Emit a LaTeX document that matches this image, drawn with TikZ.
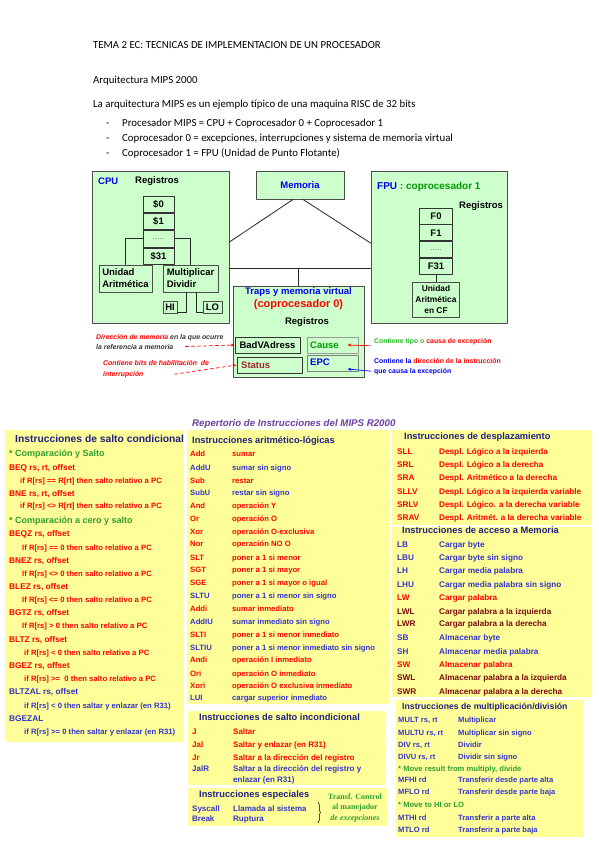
\documentclass[tikz,border=0pt]{standalone}
\usepackage{fontspec}
\setmainfont{Liberation Sans}
\newfontfamily\calibri{Carlito}
\newfontfamily\timesgreen{Liberation Serif}
\usetikzlibrary{positioning,arrows.meta,decorations.pathreplacing}

\definecolor{boxgreen}{HTML}{CCFFCC}
\definecolor{panelyel}{HTML}{FFFF99}
\definecolor{titblue}{HTML}{1F1F80}
\definecolor{insblue}{HTML}{3535C8}
\definecolor{insred}{HTML}{FF0000}
\definecolor{insgreen}{HTML}{2E9E2E}
\definecolor{insdred}{HTML}{7A0A0A}
\definecolor{reppurple}{HTML}{6A3FA0}
\definecolor{diagblue}{HTML}{0000EE}
\definecolor{fpugreen}{HTML}{009A00}
\definecolor{notegreen}{HTML}{22BB22}
\definecolor{statred}{HTML}{A02828}

\tikzset{
  gbox/.style={draw=black!70,fill=boxgreen,line width=0.9pt,inner sep=0pt,font=\fontsize{9.5}{12}\selectfont\bfseries},
  regcell/.style={draw=black!80,fill=boxgreen,line width=0.8pt,minimum width=31pt,minimum height=16.5pt,inner sep=0pt,font=\fontsize{9.5}{11}\selectfont\bfseries},
  wire/.style={draw=black!85,line width=0.8pt},
  dtxt/.style={inner sep=0pt,font=\fontsize{9.5}{11}\selectfont\bfseries},
  note/.style={inner sep=0pt,anchor=base west,font=\fontsize{6.9}{8}\selectfont\bfseries\itshape},
  rnote/.style={inner sep=0pt,anchor=base west,font=\fontsize{6.9}{8}\selectfont\bfseries},
  notearrow/.style={dashed,line width=0.7pt,-{Stealth[length=4pt,width=3pt]}},
  solidarrow/.style={line width=0.7pt,-{Stealth[length=4pt,width=3pt]}},
  panel/.style={fill=panelyel},
  ptitle/.style={inner sep=0pt,anchor=base west,text=titblue,font=\fontsize{9.3}{11}\selectfont\bfseries},
  ins/.style={inner sep=0pt,anchor=base west,font=\fontsize{7.7}{9}\selectfont\bfseries},
  toptxt/.style={inner sep=0pt,anchor=base west,font=\calibri\fontsize{10.8}{13}\selectfont},
}

\begin{document}
\begin{tikzpicture}[x=1pt,y=-1pt,line cap=round,line join=round]
  \useasboundingbox (0,0) rectangle (599,848);

  % heading
  \node[toptxt] (tema) at (93,48.5) {TEMA 2 EC: TECNICAS DE IMPLEMENTACION DE UN PROCESADOR};
  \node[toptxt] (arq) at (93,84) {Arquitectura MIPS 2000};
  \node[toptxt] (intro) at (93,108) {La arquitectura MIPS es un ejemplo típico de una maquina RISC de 32 bits};
  \foreach \yy/\tx [count=\i] in {127/{Procesador MIPS = CPU + Coprocesador 0 + Coprocesador 1},
      141.5/{Coprocesador 0 = excepciones, interrupciones y sistema de memoria virtual},
      156/{Coprocesador 1 = FPU (Unidad de Punto Flotante)}}{
    \node[toptxt] (dash\i) at (106,\yy) {-};
    \node[toptxt] (item\i) at (122,\yy) {\tx};
  }

  % CPU
  \node[gbox,minimum width=137pt,minimum height=152pt] (cpu) at (160.5,247) {};
  \node[dtxt,anchor=west,text=diagblue] (cpulbl) at (98,181) {CPU};
  \node[dtxt,anchor=west] (cpureg) at (135,181) {Registros};
  \node[regcell] (r0) at (158.5,204.25) {\$0};
  \node[regcell,below=0pt of r0] (r1) {\$1};
  \node[regcell,below=0pt of r1,font=\fontsize{8}{9}\selectfont,text=black!60] (rdots) {.....};
  \node[regcell,below=0pt of rdots] (r31) {\$31};
  \node[gbox,minimum width=53pt,minimum height=27pt,align=left] (alu) at (125.5,278.5) {Unidad\\Aritmética};
  \node[gbox,minimum width=55pt,minimum height=27pt,align=left] (mul) at (190.5,278.5) {Multiplicar\\Dividir};
  \node[gbox,minimum width=14pt,minimum height=12pt] (hi) at (170,307) {HI};
  \node[gbox,minimum width=19pt,minimum height=12pt] (lo) at (212.5,307) {LO};
  \draw[wire] (rdots.west) -| (alu.north);
  \draw[wire] (rdots.east) -| (mul.north);
  \draw[wire] ([xshift=-4.5pt]mul.south) |- ([yshift=-5pt]hi.east);
  \draw[wire] ([xshift=5.5pt]mul.south) |- ([yshift=-5pt]lo.west);

  % memoria
  \node[gbox,minimum width=88pt,minimum height=28pt,text=diagblue] (mem) at (300,185) {Memoria};

  % FPU
  \node[gbox,minimum width=136pt,minimum height=152pt] (fpu) at (439,247) {};
  \node[dtxt,anchor=west,font=\fontsize{10}{12}\selectfont\bfseries] (fpulbl) at (377,187) {\textcolor{diagblue}{FPU}\ \textcolor{fpugreen}{:\ coprocesador 1}};
  \node[dtxt,anchor=west] (fpureg) at (459,206) {Registros};
  \node[regcell,minimum width=33pt,minimum height=16pt] (f0) at (436,216) {F0};
  \node[regcell,minimum width=33pt,minimum height=16pt,below=0pt of f0] (f1) {F1};
  \node[regcell,minimum width=33pt,minimum height=16pt,below=0pt of f1,font=\fontsize{8}{9}\selectfont,text=black!60] (fdots) {.....};
  \node[regcell,minimum width=33pt,minimum height=16pt,below=0pt of fdots] (f31) {F31};
  \node[gbox,minimum width=47pt,minimum height=35pt,align=center,font=\fontsize{8.4}{11}\selectfont\bfseries] (falu) at (436,299.5) {Unidad\\Aritmética\\en CF};
  \draw[wire] (f31.south) -- (falu.north);

  % coprocesador 0
  \node[gbox,minimum width=131pt,minimum height=91pt] (traps) at (298.5,331.5) {};
  \node[dtxt,text=diagblue] (trapst) at (298.5,292) {Traps y memoria virtual};
  \node[dtxt,text=red,font=\fontsize{11}{13}\selectfont\bfseries] (cop0) at (298.5,304.5) {(coprocesador 0)};
  \node[dtxt] (trapreg) at (307,322) {Registros};
  \node[gbox,draw=black!80,minimum width=65pt,minimum height=16pt] (badv) at (267.5,345) {BadVAdress};
  \node[gbox,draw=black!40,minimum width=51pt,minimum height=16pt] (cause) at (332.5,345) {};
  \node[dtxt,anchor=west,text=fpugreen] (causet) at (310,345) {Cause};
  \node[gbox,draw=black!80,minimum width=65pt,minimum height=16pt] (status) at (269.5,365) {};
  \node[dtxt,anchor=west,text=statred] (statust) at (241,365) {Status};
  \node[gbox,draw=black!50,minimum width=51pt,minimum height=16pt] (epc) at (332.5,363) {};
  \node[dtxt,anchor=west,text=diagblue] (epct) at (310,362) {EPC};

  % buses
  \draw[wire] ([xshift=-7pt]mem.south) -- ([yshift=5pt]cpu.east);
  \draw[wire] ([xshift=3pt]mem.south) -- ([yshift=4pt]fpu.west);
  \coordinate (busL) at ([yshift=-21pt]cpu.east);
  \draw[wire] (busL) -- (busL -| fpu.west);
  \draw[wire] (traps.north) -- (traps.north |- busL);

  % notas
  \node[note] (n1a) at (96,339) {\textcolor{red}{Dirección de memoria} \textcolor{black!80}{en la que ocurre}};
  \node[note,text=black!80] (n1b) at (96,349) {la referencia a memoria};
  \node[note,text=red] (n2a) at (103,365) {Contiene bits de habilitación\ \ de};
  \node[note,text=red] (n2b) at (103,376) {interrupción};
  \draw[notearrow,red] ([xshift=12pt]n1b.east) -- (badv.west);
  \draw[notearrow,red] ([xshift=31pt]n2b.east) -- (status.west);
  \node[rnote] (n3) at (374,343.5) {\textcolor{notegreen}{Contiene tipo o} \textcolor{red}{causa de excepción}};
  \draw[solidarrow,red] ([xshift=-4pt,yshift=-4pt]n3.west) -- ([xshift=-11pt]cause.east);
  \node[rnote] (n4a) at (374,363.5) {\textcolor{diagblue}{Contiene la} \textcolor{red}{dirección de la instrucción}};
  \node[rnote,text=diagblue] (n4b) at (374,373) {que causa la excepción};
  \draw[solidarrow,diagblue] ([xshift=-3pt]n4b.west) -- ([xshift=-11pt,yshift=-6pt]epc.east);

  % repertorio
  \node[inner sep=0pt,anchor=base west,text=reppurple,font=\fontsize{9.7}{12}\selectfont\bfseries\itshape] (repert) at (192,426) {Repertorio de Instrucciones del MIPS R2000};

  % salto condicional
  \fill[panel] (5,430) rectangle (184,742);
  \node[ptitle,font=\fontsize{10.3}{12}\selectfont\bfseries] (condt) at (15,442) {Instrucciones de salto condicional};
  \foreach \yy/\xx/\fs/\cl/\tx [count=\i] in {
      456/9/9/insgreen/{* Comparación y Salto},
      470/9/8.3/insred/{BEQ rs, rt, offset},
      483/20/7.7/insred/{if R[rs] == R[rt] then salto relativo a PC},
      496/9/8.3/insred/{BNE rs, rt, offset},
      508/20/7.7/insred/{if R[rs] <> R[rt] then salto relativo a PC},
      523/9/9/insgreen/{* Comparación a cero y salto},
      536/9/8.3/insred/{BEQZ rs, offset},
      550/22/7.7/insred/{If R[rs] == 0 then salto relativo a PC},
      563/9/8.3/insred/{BNEZ rs, offset},
      576/22/7.7/insred/{If R[rs] <> 0 then salto relativo a PC},
      589/9/8.3/insred/{BLEZ rs, offset},
      602/22/7.7/insred/{If R[rs] <= 0 then salto relativo a PC},
      615/9/8.3/insred/{BGTZ rs, offset},
      628/22/7.7/insred/{If R[rs] > 0 then salto relativo a PC},
      642/9/8.3/insred/{BLTZ rs, offset},
      655/24/7.7/insred/{if R[rs] < 0 then salto relativo a PC},
      668/9/8.3/insred/{BGEZ rs, offset},
      681/24/7.7/insred/{if R[rs] >=\ \ 0 then salto relativo a PC},
      694/9/8.3/insblue/{BLTZAL rs, offset},
      708/24/7.7/insblue/{if R[rs] < 0 then saltar y enlazar (en R31)},
      721/9/8.3/insblue/{BGEZAL},
      734/24/7.7/insblue/{if R[rs] >= 0 then saltar y enlazar (en R31)}}{
    \node[ins,text=\cl,font=\fontsize{\fs}{10}\selectfont\bfseries] (cond\i) at (\xx,\yy) {\tx};
  }

  % aritmetico-logicas
  \fill[panel] (187,430) rectangle (389,704);
  \node[ptitle] (alut) at (192,443.5) {Instrucciones aritmético-lógicas};
  \foreach \yy/\mn/\ds/\cl [count=\i] in {
      456/Add/sumar/insred,
      470/AddU/sumar sin signo/insblue,
      483/Sub/restar/insred,
      495/SubU/restar sin signo/insblue,
      508/And/operación Y/insred,
      521/Or/operación O/insred,
      534/Xor/operación O-exclusiva/insred,
      546/Nor/operación NO O/insred,
      560/SLT/poner a 1 si menor/insred,
      572/SGT/poner a 1 si mayor/insred,
      585/SGE/poner a 1 si mayor o igual/insred,
      598/SLTU/poner a 1 si menor sin signo/insblue,
      611/Addi/sumar inmediato/insred,
      624/AddIU/sumar inmediato sin signo/insblue,
      637/SLTI/poner a 1 si menor inmediato/insred,
      650/SLTIU/poner a 1 si menor inmediato sin signo/insblue,
      662/Andi/operación I inmediato/insred,
      676/Ori/operación O inmediato/insred,
      688/Xori/operación O exclusiva inmediato/insred,
      700/LUI/cargar superior inmediato/insblue}{
    \node[ins,text=\cl] (alum\i) at (190,\yy) {\mn};
    \node[ins,text=\cl] (alud\i) at (232,\yy) {\ds};
  }

  % salto incondicional
  \fill[panel] (188,711) rectangle (386,785);
  \node[ptitle] (jmpt) at (199,720.5) {Instrucciones de salto incondicional};
  \foreach \yy/\mn/\ds/\cl [count=\i] in {
      734/J/Saltar/insred,
      747/Jal/Saltar y enlazar (en R31)/insred,
      760/Jr/Saltar a la dirección del registro/insred,
      771/JalR/Saltar a la dirección del registro y/insblue}{
    \node[ins,text=\cl,font=\fontsize{8}{9}\selectfont\bfseries] (jmpm\i) at (192,\yy) {\mn};
    \node[ins,text=\cl,font=\fontsize{8}{9}\selectfont\bfseries] (jmpd\i) at (233,\yy) {\ds};
  }
  \node[ins,text=insblue,font=\fontsize{8}{9}\selectfont\bfseries] (jmpd5) at (233,782) {enlazar (en R31)};

  % especiales
  \fill[panel] (188,788) rectangle (387,826);
  \node[ptitle] (spct) at (199,797.5) {Instrucciones especiales};
  \node[ins,text=insblue,font=\fontsize{8}{9}\selectfont\bfseries] (sysm) at (192,811) {Syscall};
  \node[ins,text=insblue,font=\fontsize{8}{9}\selectfont\bfseries] (sysd) at (233,811) {Llamada al sistema};
  \node[ins,text=insblue,font=\fontsize{8}{9}\selectfont\bfseries] (brkm) at (192,821) {Break};
  \node[ins,text=insblue,font=\fontsize{8}{9}\selectfont\bfseries] (brkd) at (233,821) {Ruptura};
  \draw[decorate,decoration={brace,amplitude=2.5pt},line width=0.5pt] (318,802) -- (318,823);
  \node[inner sep=0pt,text=insgreen,font=\timesgreen\fontsize{8}{9}\selectfont\bfseries] (trf1) at (355,797) {Transf. Control};
  \node[inner sep=0pt,text=insgreen,font=\timesgreen\fontsize{8}{9}\selectfont\bfseries] (trf2) at (355,808) {al manejador};
  \node[inner sep=0pt,text=insgreen,font=\timesgreen\fontsize{8}{9}\selectfont\bfseries\itshape] (trf3) at (355,819) {de excepciones};

  % desplazamiento
  \fill[panel] (392,430) rectangle (592,525);
  \node[ptitle] (shft) at (404,439.5) {Instrucciones de desplazamiento};
  \foreach \yy/\mn/\ds [count=\i] in {
      454/SLL/Despl. Lógico a la izquierda,
      467/SRL/Despl. Lógico a la derecha,
      480/SRA/Despl. Aritmético a la derecha,
      494/SLLV/Despl. Lógico a la izquierda variable,
      507/SRLV/Despl. Lógico. a la derecha variable,
      520/SRAV/Despl. Aritmét. a la derecha variable}{
    \node[ins,text=insred,font=\fontsize{8.2}{9}\selectfont\bfseries] (shfm\i) at (397,\yy) {\mn};
    \node[ins,text=insred,font=\fontsize{8.2}{9}\selectfont\bfseries] (shfd\i) at (439,\yy) {\ds};
  }

  % acceso a memoria
  \fill[panel] (392,527) rectangle (592,697);
  \node[ptitle] (memt) at (402,533.5) {Instrucciones de acceso a Memoria};
  \foreach \yy/\mn/\ds/\cl [count=\i] in {
      547/LB/Cargar byte/insblue,
      560/LBU/Cargar byte sin signo/insblue,
      573/LH/Cargar media palabra/insblue,
      587/LHU/Cargar media palabra sin signo/insblue,
      600/LW/Cargar palabra/insred,
      614/LWL/Cargar palabra a la izquierda/insdred,
      626/LWR/Cargar palabra a la derecha/insdred,
      640/SB/Almacenar byte/insblue,
      654/SH/Almacenar media palabra/insblue,
      667/SW/Almacenar palabra/insred,
      680/SWL/Almacenar palabra a la izquierda/insdred,
      694/SWR/Almacenar palabra a la derecha/insdred}{
    \node[ins,text=\cl,font=\fontsize{8.2}{9}\selectfont\bfseries] (ldm\i) at (397,\yy) {\mn};
    \node[ins,text=\cl,font=\fontsize{8.2}{9}\selectfont\bfseries] (ldd\i) at (439,\yy) {\ds};
  }

  % multiplicacion / division
  \fill[panel] (396,700) rectangle (583,837);
  \node[ptitle,font=\fontsize{8.7}{10}\selectfont\bfseries] (mult) at (402,709.5) {Instrucciones de multiplicación/división};
  \foreach \yy/\mn/\ds [count=\i] in {
      722/{MULT rs, rt}/Multiplicar,
      735/{MULTU rs, rt}/Multiplicar sin signo,
      747/{DIV rs, rt}/Dividir,
      759/{DIVU rs, rt}/Dividir sin signo,
      782/MFHI rd/Transferir desde parte alta,
      794/MFLO rd/Transferir desde parte baja,
      820/MTHI rd/Transferir a parte alta,
      832/MTLO rd/Transferir a parte baja}{
    \node[ins,text=insblue,font=\fontsize{7.6}{9}\selectfont\bfseries] (mulm\i) at (398,\yy) {\mn};
    \node[ins,text=insblue,font=\fontsize{7.6}{9}\selectfont\bfseries] (muld\i) at (458,\yy) {\ds};
  }
  \node[ins,text=insgreen,font=\fontsize{7.6}{9}\selectfont\bfseries] (mvres) at (398,771) {* Move result from multiply, divide};
  \node[ins,text=insgreen,font=\fontsize{7.6}{9}\selectfont\bfseries] (mvhilo) at (398,807) {* Move to HI or LO};
\end{tikzpicture}
\end{document}
